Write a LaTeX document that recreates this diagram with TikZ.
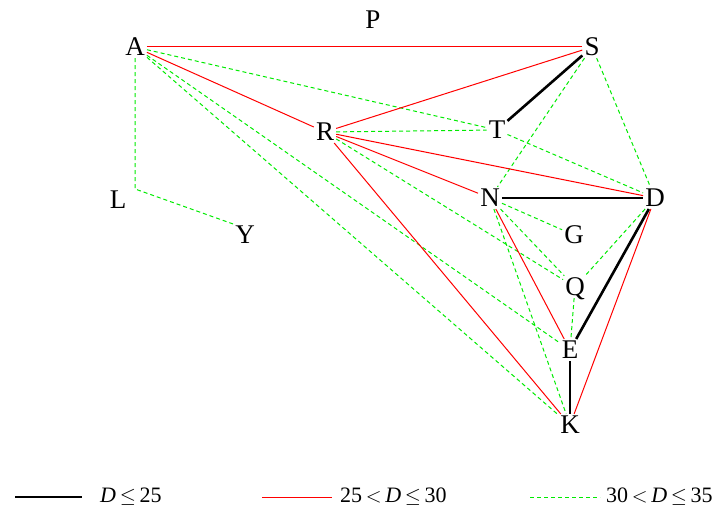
\documentclass[tikz,border=0pt]{standalone}
\usepackage{fontspec}
\setmainfont{Liberation Serif}
\usetikzlibrary{positioning}
\definecolor{edgered}{RGB}{255,0,0}
\definecolor{edgegreen}{RGB}{0,235,0}

\begin{document}
\begin{tikzpicture}[
    x=1pt, y=-1pt,
    vertex/.style={
        inner sep=2pt,
        text depth=0pt,
        font=\fontsize{27}{30}\selectfont
    },
    near/.style={line width=2.6pt, black},
    mid/.style={line width=1pt, edgered},
    far/.style={line width=1pt, edgegreen, dash pattern=on 4pt off 3pt},
    keytext/.style={anchor=west, inner sep=0pt, font=\fontsize{22}{26}\selectfont}
]
\useasboundingbox (0,0) rectangle (722,516);

\node[vertex] (P) at (373,20) {P};
\node[vertex] (A) at (135,47) {A};
\node[vertex] (S) at (592,47) {S};
\node[vertex] (R) at (325,132) {R};
\node[vertex] (T) at (497,130) {T};
\node[vertex] (L) at (118,200) {L};
\node[vertex] (Y) at (245,235) {Y};
\node[vertex] (N) at (490,198) {N};
\node[vertex] (D) at (655,198) {D};
\node[vertex] (G) at (574,235) {G};
\node[vertex] (Q) at (575,287) {Q};
\node[vertex] (E) at (570,350) {E};
\node[vertex] (K) at (570,425) {K};

\draw[far] (A) -- (T);
\draw[far] (A) -- (E);
\draw[far] (A) -- (K);
\draw[far] (A.south) -- (A.south |- L.north east) -- (Y.north west);
\draw[far] (R) -- (T);
\draw[far] (R) -- (Q);
\draw[far] (S) -- (N);
\draw[far] (S) -- (D);
\draw[far] (T) -- (D);
\draw[far] (N) -- (G);
\draw[far] (N) -- (Q);
\draw[far] (N) -- (K);
\draw[far] (D) -- (Q);
\draw[far] (Q) -- (E);

\draw[mid] (A) -- (S);
\draw[mid] (A) -- (R);
\draw[mid] (R) -- (S);
\draw[mid] (R) -- (D);
\draw[mid] (R) -- (N);
\draw[mid] (R) -- (K);
\draw[mid] (N) -- (E);
\draw[mid] (D) -- (K);

\draw[near] (S) -- (T);
\draw[near] (N) -- (D);
\draw[near] (D) -- (E);
\draw[near] (E) -- (K);

\node[keytext] (key1) at (100,497) {\textit{D}\,$\leq$\,25};
\node[keytext] (key2) at (340,497) {25\,$<$\,\textit{D}\,$\leq$\,30};
\node[keytext] (key3) at (606,497) {30\,$<$\,\textit{D}\,$\leq$\,35};
\coordinate (key1a) at (15,497);
\coordinate (key2a) at (262,497);
\coordinate (key3a) at (530,497);
\draw[near] (key1a) -- ++(67,0);
\draw[mid] (key2a) -- ++(70,0);
\draw[far] (key3a) -- ++(70,0);

\end{tikzpicture}
\end{document}
